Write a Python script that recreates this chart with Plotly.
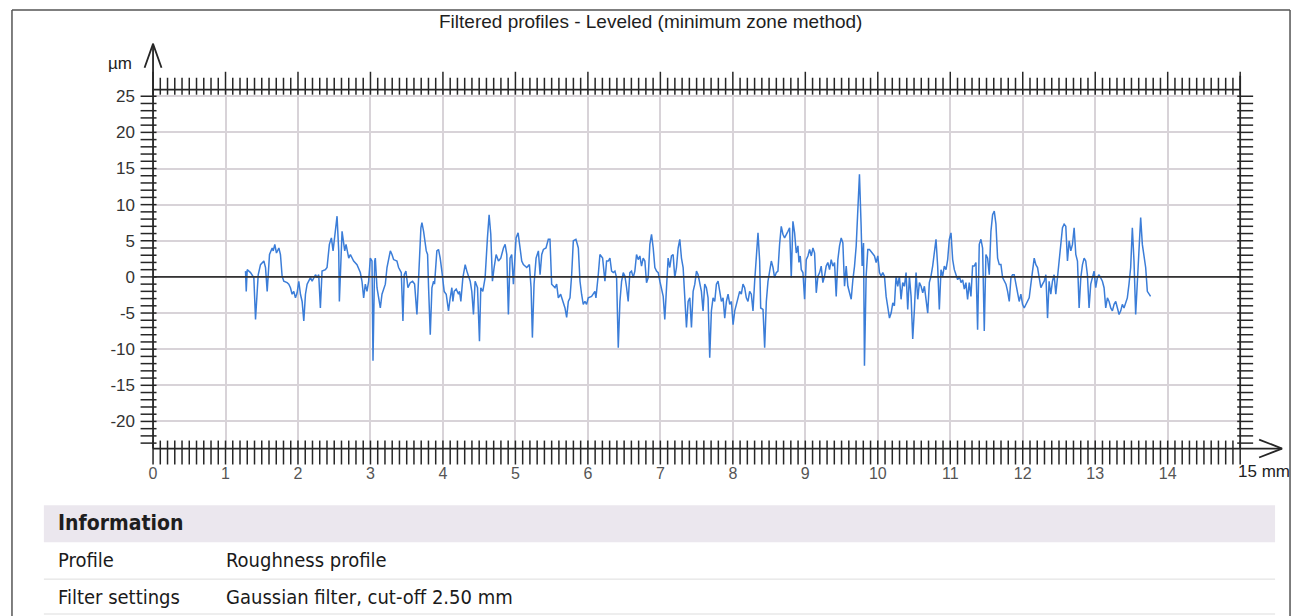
import numpy as np
import plotly.graph_objects as go

# ---------------- data ----------------
title_text = "Filtered profiles - Leveled (minimum zone method)"
x_tick_vals = list(range(0, 15))
x_tick_text = [str(v) for v in x_tick_vals]
x_end_label = "15 mm"
y_tick_vals = [-20, -15, -10, -5, 0, 5, 10, 15, 20, 25]
y_tick_text = [str(v) for v in y_tick_vals]
y_unit = "µm"

info_header = "Information"
info_keys = ["Profile", "Filter settings"]
info_values = ["Roughness profile", "Gaussian filter, cut-off 2.50 mm"]

# profile, position in mm, height in µm
seg1_x = [1.276,1.286,1.299,1.345,1.391,1.414,1.451,1.483,1.529,1.552,1.575,1.607,1.644,1.658,1.680,1.703,1.736,1.758,1.781,1.804,
          1.850,1.873,1.896,1.919,1.942,1.965,1.988,2.011,2.034,2.057,2.080,2.103,2.126,2.172,2.195,2.241,2.264,2.286,2.309,2.332,
          2.378,2.401,2.433,2.461,2.484,2.516,2.539,2.562,2.571,2.608,2.645,2.663,2.700,2.723,2.768,2.814,2.860,2.883,2.906,2.929,
          2.952,2.975,2.998,3.021,3.035,3.058,3.067,3.090,3.136,3.159,3.205,3.228,3.274,3.297,3.319,3.365,3.388,3.425,3.448,3.466,
          3.489,3.517,3.549,3.581,3.609,3.641,3.696,3.710]
seg1_z = [0.8,-2.0,1.0,0.6,-0.1,-5.9,0.3,1.7,2.2,1.3,-2.0,3.1,4.0,3.6,4.5,3.3,4.0,3.1,0.1,-0.6,
          -0.8,-1.0,-1.5,-2.4,-2.0,-2.9,-2.2,-0.6,-2.4,-3.4,-6.1,-2.4,-1.0,-0.1,-0.6,0.3,-0.1,0.3,-4.3,0.8,
          1.0,1.3,4.5,5.4,3.6,6.8,8.4,3.6,-3.4,6.3,3.6,4.5,2.6,3.1,2.2,1.7,0.6,-0.6,-2.9,-1.0,
          -2.0,-0.6,2.6,2.2,-11.6,2.2,2.6,-1.5,-4.3,-2.4,-1.0,1.3,3.6,3.1,2.4,2.2,1.3,0.6,-6.1,0.3,
          0.8,-1.5,-0.8,-0.6,-1.0,-5.2,6.8,7.5]

seg2_x = [3.733,3.770,3.788,3.802,3.825,3.848,3.871,3.884,3.916,3.939,3.962,3.985,4.017,4.045,4.077,4.100,4.123,4.137,4.155,4.183,
          4.215,4.229,4.247,4.275,4.307,4.330,4.376,4.398,4.421,4.444,4.477,4.504,4.522,4.550,4.582,4.614,4.637,4.660,4.683,4.706,
          4.734,4.766,4.798,4.835,4.858,4.881,4.903,4.926,4.949,4.972,5.009,5.037,5.064,5.087,5.110,5.156,5.193,5.216,5.234,5.257,
          5.285,5.317,5.340,5.363,5.386,5.422,5.454,5.477,5.500,5.546,5.569,5.592,5.624,5.652,5.684,5.707,5.730,5.753,5.776,5.799,
          5.835,5.868,5.891,5.913,5.936,5.959,5.982,6.005,6.051,6.097,6.111,6.143,6.166,6.203,6.235,6.258]
seg2_z = [6.3,3.6,3.1,-1.5,-8.0,-1.5,-0.6,-1.0,3.6,3.8,2.6,0.8,-2.0,-2.4,-4.7,-2.9,-1.5,-3.4,-2.0,-1.7,
          -2.4,-2.0,-3.4,-0.1,1.7,0.8,-0.6,-2.0,-5.2,-0.6,-1.5,-8.9,-1.5,-2.0,-0.1,5.4,8.6,5.9,-0.6,1.3,
          3.1,2.2,2.6,4.0,4.5,3.1,-5.2,2.6,3.1,-1.0,5.4,6.1,4.0,2.2,1.7,1.3,1.7,-1.5,-8.4,-1.0,
          2.6,3.6,0.3,3.1,3.8,4.0,5.2,5.2,-1.0,-1.5,-1.0,-2.9,-2.4,-3.4,-4.3,-5.6,-3.4,-2.9,0.3,5.0,
          5.2,4.0,-0.6,-2.4,-3.8,-3.4,-3.8,-2.9,-2.7,-2.0,-2.9,0.3,3.1,2.6,-0.6,2.2]

seg3_x = [6.281,6.304,6.327,6.350,6.373,6.396,6.419,6.442,6.465,6.488,6.511,6.534,6.556,6.579,6.602,6.625,6.648,6.671,6.694,6.717,
          6.740,6.763,6.786,6.809,6.832,6.855,6.878,6.901,6.924,6.947,6.970,6.993,7.016,7.039,7.061,7.084,7.107,7.130,7.153,7.176,
          7.199,7.222,7.245,7.268,7.291,7.314,7.337,7.360,7.383,7.406,7.429,7.452,7.475,7.498,7.521,7.544,7.566,7.589,7.612,7.635,
          7.658,7.681,7.704,7.727,7.750,7.773,7.796,7.819,7.842,7.865,7.888,7.911,7.934,7.957,7.980,8.003,8.026,8.049,8.071,8.094,
          8.117,8.140,8.163,8.186,8.209,8.232,8.255,8.278,8.301,8.324,8.347,8.370,8.384,8.416,8.439,8.462,8.485,8.508,8.531,8.554,
          8.576,8.599,8.622,8.645,8.668,8.691,8.714,8.760,8.783,8.806]
seg3_z = [2.2,2.6,0.8,0.6,0.8,-0.1,-9.8,-3.4,-0.6,0.6,0.1,-1.5,-3.4,0.6,0.8,-0.1,0.8,3.1,2.4,2.9,
          1.5,2.6,2.2,-0.8,-0.1,4.5,5.9,4.0,1.3,0.8,0.6,-0.6,-1.5,-2.7,-5.9,-1.0,2.6,1.3,2.9,3.1,
          -0.1,1.3,4.0,5.2,2.6,1.3,-2.4,-7.0,-3.4,-2.9,-7.0,-2.0,-1.0,0.8,0.3,-1.0,-2.0,-4.7,-1.0,-1.5,
          -2.9,-11.2,-4.7,-2.9,-3.4,-1.0,-0.6,-2.0,-3.4,-2.9,-5.7,-3.4,-2.4,-3.8,-3.4,-6.6,-4.7,-3.8,-2.9,-2.0,
          -2.4,-1.0,-1.5,-2.9,-3.4,-2.0,-2.4,-4.7,-0.6,2.2,6.1,2.2,-4.3,-4.5,-9.8,-3.4,-0.6,0.8,2.2,1.3,
          -0.1,0.6,0.8,4.5,7.0,5.9,5.4,6.3,6.8,-0.1]

seg4_x = [8.829,8.852,8.875,8.898,8.912,8.930,8.944,8.967,8.990,9.013,9.036,9.059,9.082,9.105,9.128,9.151,9.174,9.197,9.219,9.242,
          9.265,9.288,9.311,9.334,9.357,9.380,9.403,9.426,9.449,9.472,9.495,9.518,9.541,9.564,9.587,9.610,9.633,9.656,9.679,9.702,
          9.724,9.747,9.770,9.784,9.803,9.816,9.839,9.862,9.885,9.931,9.954,9.977,10.000,10.023,10.046,10.069,10.092,10.115,10.138,10.161,
          10.184,10.207,10.229,10.252,10.275,10.298,10.321,10.344,10.367,10.390,10.413,10.436,10.459,10.482,10.505,10.528,10.551,10.574,10.597,10.620,
          10.643,10.666,10.689,10.711,10.734,10.757,10.780,10.803,10.826,10.849,10.872,10.895,10.918,10.941,10.964,10.987,11.010,11.033,11.056,11.079,
          11.102,11.125,11.148,11.171,11.194,11.216,11.239,11.262,11.285,11.308,11.331,11.354,11.377]
seg4_z = [7.7,6.1,3.3,4.3,2.0,2.9,1.0,0.6,-3.1,2.4,2.9,3.8,2.9,4.0,3.3,-2.2,0.1,0.6,1.5,-0.8,
          0.1,1.5,2.0,1.0,2.4,1.5,2.0,-2.7,2.4,4.3,5.4,4.7,-1.3,1.5,-1.3,-2.2,-3.1,-0.4,1.5,4.3,
          9.8,14.2,7.0,1.5,4.7,-12.3,0.1,3.8,3.8,3.3,2.9,2.0,2.9,0.6,0.1,0.6,0.1,-2.7,-4.0,-5.7,
          -5.0,-3.6,-4.0,0.1,-1.3,0.1,-3.1,-0.8,-1.3,0.6,-4.5,0.1,-2.7,-8.6,-4.5,0.6,-3.1,-0.8,-1.3,-2.2,
          -1.3,-3.6,-5.0,-0.8,0.1,1.5,3.8,5.2,1.5,-4.5,1.0,0.1,1.5,1.0,2.4,5.2,6.1,2.4,1.0,0.1,
          -0.4,0.1,-0.8,-0.4,-1.7,-0.8,-3.1,-0.8,-2.7,1.5,1.5,2.0,-7.3]

seg5_x = [11.400,11.423,11.446,11.469,11.492,11.515,11.538,11.561,11.584,11.607,11.630,11.653,11.676,11.699,11.722,11.745,11.768,11.791,11.814,11.837,
          11.859,11.882,11.905,11.928,11.951,11.974,11.997,12.020,12.043,12.066,12.089,12.112,12.135,12.158,12.181,12.204,12.227,12.250,12.273,12.296,
          12.319,12.342,12.364,12.387,12.410,12.433,12.456,12.479,12.502,12.525,12.548,12.571,12.594,12.617,12.640,12.663,12.686,12.709,12.732,12.755,
          12.778,12.801,12.824,12.847,12.869,12.892,12.915,12.938,12.961,12.984,13.007,13.030,13.053,13.076,13.099,13.122,13.145,13.168,13.191,13.214,
          13.237,13.260,13.283,13.306,13.329,13.352,13.374,13.397,13.420,13.443,13.466,13.489,13.512,13.535,13.558,13.581,13.604,13.627,13.650,13.673,
          13.696,13.719,13.742,13.764]
seg5_z = [4.5,5.2,4.0,-7.5,3.1,2.6,0.3,6.3,8.6,9.1,7.3,2.6,1.7,1.7,-0.1,-0.6,-1.0,-2.0,-3.4,-0.1,
          0.3,0.3,-1.0,-2.4,-3.4,-2.4,-3.8,-4.3,-3.8,-3.4,-2.9,-1.0,1.3,2.6,1.7,1.3,-0.1,-1.5,-1.0,-0.6,
          0.3,-5.7,-0.6,-2.4,-0.6,0.3,-2.4,-0.1,2.6,5.0,6.8,7.3,7.0,2.2,5.0,3.6,4.5,6.8,3.1,2.2,
          -4.3,-0.1,1.7,2.6,2.2,0.3,-4.3,-1.0,-0.1,0.8,-1.5,-0.1,0.3,-0.1,-0.6,-1.5,-4.3,-2.9,-3.4,-4.3,
          -4.7,-3.8,-3.4,-4.3,-5.2,-4.7,-3.8,-4.3,-3.4,-2.9,-1.0,1.3,6.8,2.2,-5.2,-1.0,5.0,8.2,4.5,3.1,
          1.3,-2.0,-2.4,-2.7]

profile_x = []
profile_z = []
for sx, sz in [(seg1_x, seg1_z), (seg2_x, seg2_z), (seg3_x, seg3_z), (seg4_x, seg4_z), (seg5_x, seg5_z)]:
    n = min(len(sx), len(sz))
    profile_x += sx[:n]
    profile_z += sz[:n]

# ---------------- geometry / style ----------------
W, H = 1298, 616
X0_PX, MM_PX = 149.5, 72.7      # pixel of 0 mm, pixels per mm
Y0_PX, UM_PX = 275.8, 7.25      # pixel of 0 µm, pixels per µm
X_MAX = 15.0
TOP_PX, BOT_PX = 88, 448


def mm(p):
    return (p - X0_PX) / MM_PX


def um(p):
    return (Y0_PX - p) / UM_PX


def px(p):
    return p / W


def py(p):
    return 1 - p / H


INK = "#262626"
GRID = "#d8d3d8"
BLUE = "#3b7dd8"
FONT = "Liberation Sans, Arial, sans-serif"
TFONT = "DejaVu Sans Condensed, DejaVu Sans, sans-serif"

fig = go.Figure()

fig.add_trace(go.Scatter(x=profile_x, y=profile_z, mode="lines",
                         line=dict(color=BLUE, width=1.5), hoverinfo="skip",
                         xaxis="x", yaxis="y", showlegend=False))


def seg_trace(xs, ys, width=1.2, color=INK):
    fig.add_trace(go.Scatter(x=xs, y=ys, mode="lines", line=dict(color=color, width=width),
                             hoverinfo="skip", xaxis="x2", yaxis="y2", showlegend=False))


# zero (mean) line
seg_trace([0, X_MAX], [0, 0], width=1.8, color="#333333")

# rulers
tx = np.round(np.arange(0, X_MAX + 1e-9, 0.1), 2)
xs, ys = [], []
for t in tx:
    major = abs(t - round(t)) < 1e-6
    xs += [t, t, None]
    ys += [um(93), um(70 if major else 76), None]
for t in tx:
    xs += [t, t, None]
    ys += [um(440), um(464), None]
ty = np.arange(-23, 26, 1)
for v in ty:
    xs += [mm(137), mm(153), None]
    ys += [v, v, None]
    xs += [mm(1237), mm(1253), None]
    ys += [v, v, None]
seg_trace(xs, ys, width=1.5)

# ruler base lines and axes arrows
seg_trace([0, X_MAX], [um(TOP_PX), um(TOP_PX)], width=1.8)
seg_trace([X_MAX, X_MAX], [um(TOP_PX - 14), um(BOT_PX)], width=1.8)
seg_trace([0, 0], [um(BOT_PX), um(42)], width=1.8)
seg_trace([0, mm(1282)], [um(BOT_PX), um(BOT_PX)], width=1.8)
seg_trace([mm(141), 0, mm(158)], [um(66), um(42), um(66)], width=1.8)
seg_trace([mm(1259), mm(1282), mm(1259)], [um(439), um(BOT_PX), um(457)], width=1.8)

shapes = [
    # outer frame
    dict(type="line", xref="paper", yref="paper", x0=px(8), x1=px(1290), y0=py(8), y1=py(8),
         line=dict(color="#555555", width=1.5)),
    dict(type="line", xref="paper", yref="paper", x0=px(8), x1=px(8), y0=py(8), y1=py(616),
         line=dict(color="#555555", width=1.5)),
    dict(type="line", xref="paper", yref="paper", x0=px(1290), x1=px(1290), y0=py(8), y1=py(616),
         line=dict(color="#555555", width=1.5)),
    # information table
    dict(type="rect", xref="paper", yref="paper", x0=px(40), x1=px(1275), y0=py(505), y1=py(542),
         fillcolor="#ebe7ee", line=dict(width=0), layer="below"),
    dict(type="line", xref="paper", yref="paper", x0=px(40), x1=px(1275), y0=py(579), y1=py(579),
         line=dict(color="#dddddd", width=1)),
    dict(type="line", xref="paper", yref="paper", x0=px(40), x1=px(1275), y0=py(614), y1=py(614),
         line=dict(color="#dddddd", width=1)),
]

annotations = [
    dict(text=title_text, xref="paper", yref="paper", x=px(648), y=py(20), xanchor="center",
         yanchor="middle", showarrow=False, font=dict(family=FONT, size=19, color="#1e1e1e")),
    dict(text=y_unit, xref="x2", yref="y2", x=mm(116), y=um(62), xanchor="center",
         yanchor="middle", showarrow=False, font=dict(family=FONT, size=17, color="#222222")),
    dict(text=x_end_label, xref="x2", yref="y2", x=mm(1236), y=um(471), xanchor="left",
         yanchor="middle", showarrow=False, font=dict(family=FONT, size=17, color="#222222")),
    dict(text="<b>" + info_header + "</b>", xref="paper", yref="paper", x=px(52), y=py(523),
         xanchor="left", yanchor="middle", showarrow=False,
         font=dict(family=TFONT, size=21, color="#1e1e1e")),
]
row_y = [560, 597]
for k, v, yy in zip(info_keys, info_values, row_y):
    annotations.append(dict(text=k, xref="paper", yref="paper", x=px(52), y=py(yy), xanchor="left",
                            yanchor="middle", showarrow=False,
                            font=dict(family=TFONT, size=20, color="#1a1a1a")))
    annotations.append(dict(text=v, xref="paper", yref="paper", x=px(221), y=py(yy), xanchor="left",
                            yanchor="middle", showarrow=False,
                            font=dict(family=TFONT, size=20, color="#1a1a1a")))

fig.update_layout(
    width=W, height=H, margin=dict(l=0, r=0, t=0, b=0),
    paper_bgcolor="white", plot_bgcolor="rgba(0,0,0,0)",
    showlegend=False, shapes=shapes, annotations=annotations,
    xaxis=dict(domain=[X0_PX / W, (X0_PX + X_MAX * MM_PX) / W], range=[0, X_MAX],
               tickvals=x_tick_vals, ticktext=x_tick_text, ticks="", ticklabelstandoff=13,
               showgrid=True, gridcolor=GRID, gridwidth=1.6, zeroline=False, showline=False,
               tickfont=dict(family=FONT, size=16, color="#555555"), anchor="y", fixedrange=True),
    yaxis=dict(domain=[1 - BOT_PX / H, 1 - TOP_PX / H], range=[um(BOT_PX), um(TOP_PX)],
               tickvals=y_tick_vals, ticktext=y_tick_text, ticks="", ticklabelstandoff=17,
               showgrid=True, gridcolor=GRID, gridwidth=1.6, zeroline=False, showline=False,
               tickfont=dict(family=FONT, size=17, color="#333333"), anchor="x", fixedrange=True),
    xaxis2=dict(domain=[0, 1], range=[mm(0), mm(W)], visible=False, anchor="y2", fixedrange=True),
    yaxis2=dict(domain=[0, 1], range=[um(H), um(0)], visible=False, anchor="x2", fixedrange=True),
)

fig.write_html("out.html", config={"displayModeBar": False},
               post_script="document.body.style.margin='0';document.body.style.overflow='hidden';")
